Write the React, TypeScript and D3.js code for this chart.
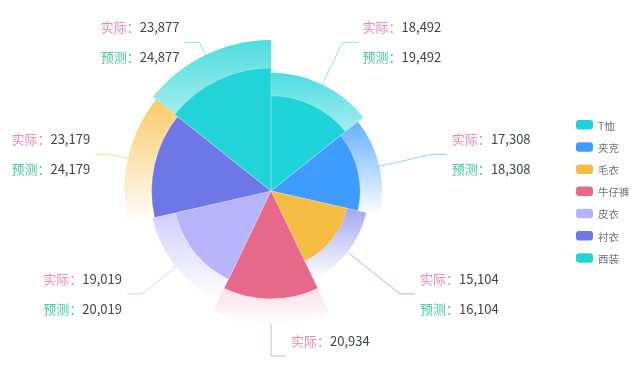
import React from "react";
import { pie, arc, scaleLinear, max } from "d3";

const categories = ["T恤", "夹克", "毛衣", "牛仔裤", "皮衣", "衬衣", "西装"];
const actual = [18492, 17308, 15104, 20934, 19019, 23179, 23877];
const forecast = [19492, 18308, 16104, 21934, 20019, 24179, 24877];

const colors = ["#1fd4d9", "#3f9cff", "#f7bd42", "#e7698a", "#b6b5fb", "#6e77e6", "#21d4d8"];
const outerColors = ["#1fd4d9", "#3f9cff", "#6e77e6", "#e7698a", "#b6b5fb", "#f7bd42", "#21d4d8"];

const W = 639;
const H = 366;
const cx = 271;
const cy = 191;
const labelR = 165;
const FONT = "'Noto Sans CJK SC', 'Noto Sans', sans-serif";

const fmt = (v: number) => v.toLocaleString("en-US");

export default function App() {
  const rows = categories.map((c, i) => ({ name: c, actual: actual[i], forecast: forecast[i], i }));
  const slices = pie<any>().value(() => 1).sort(null)(rows);

  const rIn = scaleLinear().domain([0, max(actual) as number]).range([0, 123]);
  const rOut = scaleLinear().domain([0, max(forecast) as number]).range([0, 151]);

  const innerArc = arc<any>().innerRadius(0).outerRadius((d: any) => rIn(d.data.actual));
  const outerArc = arc<any>().innerRadius(0).outerRadius((d: any) => rOut(d.data.forecast));

  // rows that would land below the canvas are not drawn (off-screen in the original)
  const fits = (y: number) => cy + y + 7 <= H;

  return (
    <svg width={W} height={H} style={{ position: "fixed", left: 0, top: 0 }} fontFamily={FONT}>
      <defs>
        {outerColors.map((c, i) => (
          <linearGradient key={i} id={`og${i}`} x1="0" y1="0" x2="0" y2="1">
            <stop offset="0" stopColor={c} stopOpacity={0.8} />
            <stop offset="1" stopColor={c} stopOpacity={0} />
          </linearGradient>
        ))}
      </defs>
      <g transform={`translate(${cx},${cy})`}>
        {slices.map((s, i) => (
          <path key={"o" + i} d={outerArc(s) as string} fill={`url(#og${i})`} />
        ))}
        {slices.map((s, i) => (
          <path
            key={"i" + i}
            d={innerArc(s) as string}
            fill={colors[i]}
            stroke="rgba(255,255,255,0.3)"
            strokeWidth={0.8}
          />
        ))}
        {slices.map((s, i) => {
          const a = (s.startAngle + s.endAngle) / 2;
          const r0 = rOut(s.data.forecast);
          const sx = r0 * Math.sin(a);
          const sy = -r0 * Math.cos(a);
          const ex = labelR * Math.sin(a);
          const ey = -labelR * Math.cos(a);
          const right = Math.sin(a) >= 0;
          const hx = ex + (right ? 15 : -15);
          const tx = hx + (right ? 5 : -5);
          const anchor = right ? "start" : "end";
          return (
            <g key={"l" + i}>
              <polyline
                points={`${sx},${sy} ${ex},${ey} ${hx},${ey}`}
                fill="none"
                stroke={outerColors[i]}
                strokeOpacity={0.55}
                strokeWidth={1}
              />
              {fits(ey - 16) && (
                <text x={tx} y={ey - 16} textAnchor={anchor} dominantBaseline="central" fontSize={13}>
                  <tspan fill="#ef8aa4">实际：</tspan>
                  <tspan fill="#3d4457">{fmt(s.data.actual)}</tspan>
                </text>
              )}
              {fits(ey + 14) && (
                <text x={tx} y={ey + 14} textAnchor={anchor} dominantBaseline="central" fontSize={13}>
                  <tspan fill="#48c9a2">预测：</tspan>
                  <tspan fill="#3d4457">{fmt(s.data.forecast)}</tspan>
                </text>
              )}
            </g>
          );
        })}
      </g>
      <g transform="translate(576,120)">
        {categories.map((c, i) => (
          <g key={c} transform={`translate(0,${i * 22.2})`}>
            <rect width={17} height={9.5} rx={3} fill={colors[i]} />
            <text x={22} y={5} dominantBaseline="central" fontSize={10.5} fill="#6b7280">
              {c}
            </text>
          </g>
        ))}
      </g>
    </svg>
  );
}
